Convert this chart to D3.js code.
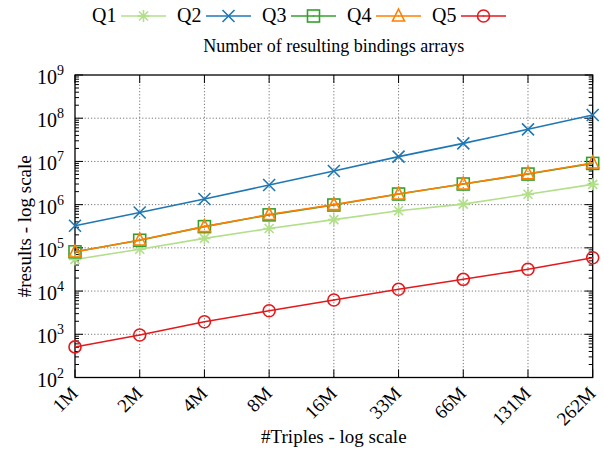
<!DOCTYPE html>
<html><head><meta charset="utf-8">
<script src="https://cdn.jsdelivr.net/npm/d3@7"></script>
<style>body{margin:0;background:#fff}</style>
</head><body><svg id="c" width="604" height="451" font-family="'Liberation Serif','Times New Roman',Times,'DejaVu Serif',serif"></svg>
<script>
const categories = ["1M","2M","4M","8M","16M","33M","66M","131M","262M"];
const seriesNames = ["Q1","Q2","Q3","Q4","Q5"];
const q1 = [5.4e4, 9.3e4, 1.66e5, 2.8e5, 4.5e5, 7.2e5, 1.03e6, 1.74e6, 2.95e6];
const q2 = [3.25e5, 6.6e5, 1.35e6, 2.85e6, 6.0e6, 1.29e7, 2.62e7, 5.53e7, 1.19e8];
const q3 = [8.1e4, 1.5e5, 3.1e5, 5.8e5, 9.8e5, 1.76e6, 3.0e6, 5.1e6, 9.0e6];
const q4 = [8.0e4, 1.52e5, 3.1e5, 5.9e5, 1.0e6, 1.76e6, 3.0e6, 5.2e6, 9.2e6];
const q5 = [5.1e2, 9.6e2, 1.95e3, 3.5e3, 6.2e3, 1.1e4, 1.87e4, 3.2e4, 5.9e4];
const yTickExps = [2,3,4,5,6,7,8,9];
const colors = ["#b2df8a","#1f78b4","#33a02c","#ff7f00","#e31a1c"];
const symbols = ["star","x","square","triangle","circle"];
const values = [q1,q2,q3,q4,q5];

const svg = d3.select("#c");
const L=75, R=592.7, T=75, B=377.5;
const x = d3.scalePoint().domain(categories).range([L,R]);
const y = d3.scaleLog().domain([1e2,1e9]).range([B,T]);

const g = svg.append("g");
g.selectAll(".gx").data(categories.slice(1,-1)).join("line")
  .attr("x1",d=>x(d)).attr("x2",d=>x(d)).attr("y1",T).attr("y2",B)
  .attr("stroke","#777").attr("stroke-width",1).attr("stroke-dasharray","1.2,2");
g.selectAll(".gy").data(yTickExps.slice(1,-1)).join("line")
  .attr("x1",L).attr("x2",R).attr("y1",d=>y(Math.pow(10,d))).attr("y2",d=>y(Math.pow(10,d)))
  .attr("stroke","#777").attr("stroke-width",1).attr("stroke-dasharray","1.2,2");

const minors=[];
for(let e=2;e<9;e++) for(let k=2;k<10;k++) minors.push(k*Math.pow(10,e));
g.selectAll(".ml").data(minors).join("line")
  .attr("x1",L).attr("x2",L+4).attr("y1",d=>y(d)).attr("y2",d=>y(d)).attr("stroke","#000");
g.selectAll(".mr").data(minors).join("line")
  .attr("x1",R).attr("x2",R-4).attr("y1",d=>y(d)).attr("y2",d=>y(d)).attr("stroke","#000");
g.selectAll(".Ml").data(yTickExps).join("line")
  .attr("x1",L).attr("x2",L+8).attr("y1",d=>y(Math.pow(10,d))).attr("y2",d=>y(Math.pow(10,d))).attr("stroke","#000");
g.selectAll(".Mr").data(yTickExps).join("line")
  .attr("x1",R).attr("x2",R-8).attr("y1",d=>y(Math.pow(10,d))).attr("y2",d=>y(Math.pow(10,d))).attr("stroke","#000");
g.selectAll(".Mb").data(categories).join("line")
  .attr("x1",d=>x(d)).attr("x2",d=>x(d)).attr("y1",B).attr("y2",B-8).attr("stroke","#000");
g.selectAll(".Mt").data(categories).join("line")
  .attr("x1",d=>x(d)).attr("x2",d=>x(d)).attr("y1",T).attr("y2",T+8).attr("stroke","#000");
svg.append("rect").attr("x",L).attr("y",T).attr("width",R-L).attr("height",B-T)
  .attr("fill","none").attr("stroke","#000").attr("stroke-width",1.3);

const yl = svg.selectAll(".yl").data(yTickExps).join("text")
  .attr("x",64).attr("y",d=>y(Math.pow(10,d))+9).attr("text-anchor","end").attr("font-size",20);
yl.append("tspan").text("10");
yl.append("tspan").attr("dy",-9).attr("font-size",14).text(d=>d);

svg.selectAll(".xl").data(categories).join("text")
  .attr("transform",d=>`translate(${x(d)+4},${B+17}) rotate(-45)`)
  .attr("text-anchor","end").attr("font-size",19).text(d=>d);

svg.append("text").attr("x",(L+R)/2).attr("y",443).attr("text-anchor","middle").attr("font-size",19).text("#Triples - log scale");
svg.append("text").attr("transform",`translate(31,${(T+B)/2}) rotate(-90)`).attr("text-anchor","middle").attr("font-size",19).text("#results - log scale");
svg.append("text").attr("x",(L+R)/2).attr("y",52).attr("text-anchor","middle").attr("font-size",18).text("Number of resulting bindings arrays");

function marker(sel, sym, color){
  const s=6;
  if(sym==="star"){
    sel.append("path").attr("d",`M${-s},0H${s}M0,${-s}V${s}M${-s*0.75},${-s*0.75}L${s*0.75},${s*0.75}M${-s*0.75},${s*0.75}L${s*0.75},${-s*0.75}`).attr("stroke",color).attr("stroke-width",1.6).attr("fill","none");
  } else if(sym==="x"){
    sel.append("path").attr("d",`M${-s},${-s}L${s},${s}M${-s},${s}L${s},${-s}`).attr("stroke",color).attr("stroke-width",1.6).attr("fill","none");
  } else if(sym==="square"){
    sel.append("rect").attr("x",-s).attr("y",-s).attr("width",2*s).attr("height",2*s).attr("stroke",color).attr("stroke-width",1.6).attr("fill","none");
    sel.append("circle").attr("r",0.7).attr("fill",color);
  } else if(sym==="triangle"){
    sel.append("path").attr("d",`M0,${-s-1}L${s},${s-1}L${-s},${s-1}Z`).attr("stroke",color).attr("stroke-width",1.6).attr("fill","none");
    sel.append("circle").attr("r",0.7).attr("fill",color);
  } else {
    sel.append("circle").attr("r",s).attr("stroke",color).attr("stroke-width",1.6).attr("fill","none");
    sel.append("circle").attr("r",0.7).attr("fill",color);
  }
}

const line = d3.line().x((d,i)=>x(categories[i])).y(d=>y(d));
values.forEach((vals,si)=>{
  const sg = svg.append("g");
  sg.append("path").datum(vals).attr("d",line).attr("fill","none").attr("stroke",colors[si]).attr("stroke-width",1.6);
  vals.forEach((v,i)=>{
    const m = sg.append("g").attr("transform",`translate(${x(categories[i])},${y(v)})`);
    marker(m, symbols[si], colors[si]);
  });
});

const legX = [92,177,262,347,432];
seriesNames.forEach((n,i)=>{
  const lg = svg.append("g").attr("transform",`translate(${legX[i]},16)`);
  lg.append("text").attr("x",0).attr("y",6).attr("font-size",20).text(n);
  lg.append("line").attr("x1",29).attr("x2",74).attr("y1",0).attr("y2",0).attr("stroke",colors[i]).attr("stroke-width",1.6);
  const m = lg.append("g").attr("transform","translate(51.5,0)");
  marker(m, symbols[i], colors[i]);
});
</script></body></html>
